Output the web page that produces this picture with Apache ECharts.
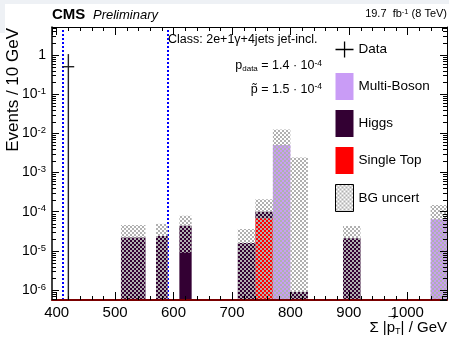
<!DOCTYPE html>
<html><head><meta charset="utf-8">
<script src="https://cdn.jsdelivr.net/npm/echarts@6/dist/echarts.min.js"></script>
<style>html,body{margin:0;padding:0;background:#fff}#c{width:449px;height:339px}</style>
</head><body><div id="c"></div>
<script>
// ---------------- data ----------------
const binLow      = [510, 570, 610, 710, 740, 770, 800, 890, 1040];
const binHigh     = [552, 590, 631, 740, 770, 800, 830, 920, 1070];
const singleTop   = [0, 0, 0, 0, 6.8e-5, 0, 0, 0, 0];
const higgs       = [2.2e-5, 2.4e-5, 4.4e-5, 1.6e-5, 3.2e-5, 0, 9e-7, 2.1e-5, 0];
const multiBoson  = [0, 0, 0, 0, 0, 5.0e-3, 0, 0, 6.4e-5];
const bgUncert    = [2.4e-5, 2.5e-5, 3.5e-5, 2.0e-5, 1.07e-4, 7.6e-3, 2.4e-3, 2.2e-5, 8.4e-5];
const dataLow     = [410];
const dataHigh    = [430];
const dataValue   = [0.5];
const dataErrUp   = [0.55];
const dataErrDown = [0.5];
const roiEdges    = [410, 590];
const xTickLabels = [400, 500, 600, 700, 800, 900, 1000];
const yTickExponents = [-6, -5, -4, -3, -2, -1, 0];

const X_MIN = 392, X_MAX = 1068;
const Y_MIN = 5.6e-7, Y_MAX = 5.15;
const FONT = '"Liberation Sans", Arial, Helvetica, sans-serif';

// minor tick values (axis decoration)
const xMinorTicks = [];
for (let v = 400; v <= 1060; v += 20) if (v % 100 !== 0) xMinorTicks.push(v);
const yMinorTicks = [];
for (let e = -7; e <= 0; e++) for (let m = 2; m <= 9; m++) { const v = m * Math.pow(10, e); if (v > Y_MIN && v < Y_MAX) yMinorTicks.push(v); }

// hatch pattern for BG uncertainty (grey checker, transparent gaps)
const pc = document.createElement('canvas'); pc.width = 4; pc.height = 4;
const pg = pc.getContext('2d'); pg.fillStyle = '#b0b0b0';
pg.fillRect(0, 0, 2, 2); pg.fillRect(2, 2, 2, 2);
const hatch = { image: pc, repeat: 'repeat' };

const COLORS = { mb: '#c99cf6', higgs: '#330033', st: '#ff0000' };

// stacked rectangles
function stackData(vals, below) {
  const out = [];
  vals.forEach((v, i) => { if (v > 0) out.push([binLow[i], binHigh[i], below[i], below[i] + v]); });
  return out;
}
const zeros = binLow.map(() => 0);
const belowHiggs = singleTop.slice();
const belowMB = singleTop.map((v, i) => v + higgs[i]);
const total = belowMB.map((v, i) => v + multiBoson[i]);
const uncertData = total.map((t, i) => [binLow[i], binHigh[i], t - bgUncert[i], t + bgUncert[i]]);

function rectRender(fill, z2) {
  return function (params, api) {
    const x0 = api.value(0), x1 = api.value(1);
    const b = Math.max(api.value(2), Y_MIN), t = api.value(3);
    const p0 = api.coord([x0, t]), p1 = api.coord([x1, b]);
    const cs = params.coordSys;
    const shape = echarts.graphic.clipRectByRect(
      { x: p0[0], y: p0[1], width: p1[0] - p0[0], height: p1[1] - p0[1] },
      { x: cs.x, y: cs.y, width: cs.width, height: cs.height });
    return shape && { type: 'rect', z2: z2, shape: shape, style: { fill: fill } };
  };
}
function barSeries(name, data, fill, z, z2) {
  return { name: name, type: 'custom', renderItem: rectRender(fill, z2), data: data,
    encode: { x: [0, 1], y: [3] }, itemStyle: { color: fill }, z: z, silent: true };
}

const dataPts = dataValue.map((v, i) => [dataLow[i], dataHigh[i], v, v - dataErrDown[i], v + dataErrUp[i]]);

function yLabel(v) {
  const e = Math.log10(v), r = Math.round(e);
  if (Math.abs(e - r) > 1e-6 || yTickExponents.indexOf(r) < 0) return '';
  return r === 0 ? '{b|1}' : '{b|10}{s|' + r + '}';
}

const chart = echarts.init(document.getElementById('c'));
chart.setOption({
  animation: false,
  grid: { left: 52, right: 2, top: 27, bottom: 39 },
  xAxis: [
    { type: 'value', min: X_MIN, max: X_MAX, splitNumber: 6, position: 'bottom', z: 8,
      axisLine: { show: true, onZero: false, lineStyle: { color: '#7a0000', width: 2 } },
      axisTick: { show: true, inside: true, length: 8, lineStyle: { color: '#000', width: 1 } },
      axisLabel: { margin: 5, fontSize: 15, color: '#000', fontFamily: FONT, showMinLabel: false, showMaxLabel: false,
        formatter: v => (xTickLabels.indexOf(Math.round(v)) >= 0 && Math.abs(v - Math.round(v)) < 1e-6) ? String(Math.round(v)) : '' },
      splitLine: { show: false } },
    { type: 'value', min: X_MIN, max: X_MAX, splitNumber: 6, position: 'top', z: 8,
      axisLine: { show: true, onZero: false, lineStyle: { color: '#000', width: 1 } },
      axisTick: { show: true, inside: true, length: 8, lineStyle: { color: '#000', width: 1 } },
      axisLabel: { show: false }, splitLine: { show: false } }
  ],
  yAxis: [
    { type: 'log', logBase: 10, min: Y_MIN, max: Y_MAX, position: 'left', z: 8,
      axisLine: { show: true, lineStyle: { color: '#000', width: 1.5 } },
      axisTick: { show: true, inside: true, length: 7, lineStyle: { color: '#000', width: 1 } },
      axisLabel: { margin: 6, color: '#000', showMinLabel: false, showMaxLabel: false, formatter: yLabel,
        rich: { b: { fontSize: 14, fontFamily: FONT, lineHeight: 16, color: '#000' },
                s: { fontSize: 9.5, fontFamily: FONT, lineHeight: 10, verticalAlign: 'top', color: '#000' } } },
      splitLine: { show: false }, minorTick: { show: false } },
    { type: 'log', logBase: 10, min: Y_MIN, max: Y_MAX, position: 'right', z: 8,
      axisLine: { show: true, lineStyle: { color: '#000', width: 1 } },
      axisTick: { show: true, inside: true, length: 7, lineStyle: { color: '#000', width: 1 } },
      axisLabel: { show: false }, splitLine: { show: false } }
  ],
  legend: {
    orient: 'vertical', left: 335, top: 36, padding: 0, itemWidth: 18, itemHeight: 27, itemGap: 10,
    selectedMode: false, textStyle: { fontSize: 13.5, fontFamily: FONT, color: '#000' },
    data: [
      { name: 'Data', icon: 'path://M0,0M18,27M8.4,5.5h1.3v7.35h8.3v1.3h-8.3v7.35h-1.3v-7.35h-8.4v-1.3h8.4z', itemStyle: { color: '#000' } },
      { name: 'Multi-Boson', icon: 'rect', itemStyle: { color: COLORS.mb } },
      { name: 'Higgs', icon: 'rect', itemStyle: { color: COLORS.higgs } },
      { name: 'Single Top', icon: 'rect', itemStyle: { color: COLORS.st } },
      { name: 'BG uncert', icon: 'rect', itemStyle: { color: hatch, borderColor: '#000', borderWidth: 1 } }
    ]
  },
  series: [
    barSeries('Single Top', stackData(singleTop, zeros), COLORS.st, 2, 1),
    barSeries('Higgs', stackData(higgs, belowHiggs), COLORS.higgs, 2, 1),
    barSeries('Multi-Boson', stackData(multiBoson, belowMB), COLORS.mb, 2, 1),
    barSeries('BG uncert', uncertData, hatch, 5, 50),
    { name: 'Data', type: 'custom', z: 6, silent: true, data: dataPts, encode: { x: [0, 1], y: [2] },
      itemStyle: { color: '#000' },
      renderItem: function (params, api) {
        const xl = api.value(0), xh = api.value(1), v = api.value(2);
        const lo = Math.max(api.value(3), Y_MIN), hi = api.value(4);
        const pl = api.coord([xl, v]), ph = api.coord([xh, v]);
        const xc = api.coord([(xl + xh) / 2, v])[0];
        const yt = api.coord([xl, hi])[1], yb = api.coord([xl, lo])[1];
        return { type: 'group', children: [
          { type: 'line', shape: { x1: xc, y1: yt, x2: xc, y2: yb }, style: { stroke: '#222', lineWidth: 1.4 } },
          { type: 'line', shape: { x1: pl[0], y1: pl[1], x2: ph[0], y2: ph[1] }, style: { stroke: '#222', lineWidth: 1.4 } }
        ] };
      },
      markLine: { silent: true, symbol: 'none', label: { show: false }, animation: false,
        lineStyle: { color: '#0000ff', type: [2, 2], width: 2, opacity: 1 },
        data: roiEdges.map(v => ({ xAxis: v })) } },
    { name: 'xMinor', type: 'custom', z: 9, silent: true, data: xMinorTicks.map(v => [v, 1]), encode: { x: 0, y: 1 },
      renderItem: function (params, api) {
        const cs = params.coordSys, px = Math.round(api.coord([api.value(0), 1])[0]) + 0.5;
        return { type: 'group', children: [
          { type: 'line', shape: { x1: px, y1: cs.y + cs.height, x2: px, y2: cs.y + cs.height - 4 }, style: { stroke: '#000', lineWidth: 1 } },
          { type: 'line', shape: { x1: px, y1: cs.y, x2: px, y2: cs.y + 4 }, style: { stroke: '#000', lineWidth: 1 } }
        ] };
      } },
    { name: 'yMinor', type: 'custom', z: 9, silent: true, data: yMinorTicks.map(v => [500, v]), encode: { x: 0, y: 1 },
      renderItem: function (params, api) {
        const cs = params.coordSys, py = Math.round(api.coord([500, api.value(1)])[1]) + 0.5;
        return { type: 'group', children: [
          { type: 'line', shape: { x1: cs.x, y1: py, x2: cs.x + 4, y2: py }, style: { stroke: '#000', lineWidth: 1 } },
          { type: 'line', shape: { x1: cs.x + cs.width, y1: py, x2: cs.x + cs.width - 4, y2: py }, style: { stroke: '#000', lineWidth: 1 } }
        ] };
      } }
  ],
  graphic: [
    { type: 'rect', left: 0, top: 0, z: -10, silent: true, shape: { width: 449, height: 4 }, style: { fill: '#eef1f5' } },
    { type: 'rect', left: 0, top: 0, z: -10, silent: true, shape: { width: 5, height: 33 }, style: { fill: '#eef1f5' } },
    { type: 'text', x: 52, y: 14.5, silent: true, style: { text: 'CMS', font: 'bold 15px ' + FONT, fill: '#000', verticalAlign: 'middle' } },
    { type: 'text', x: 93, y: 15, silent: true, style: { text: 'Preliminary', font: 'italic 13px ' + FONT, fill: '#000', verticalAlign: 'middle' } },
    { type: 'text', x: 447, y: 14, silent: true, style: { text: '{a|19.7  fb}{s|-1}{a| (8 TeV)}', align: 'right', verticalAlign: 'middle',
      rich: { a: { fontSize: 11, fontFamily: FONT, lineHeight: 13, fill: '#000' }, s: { fontSize: 7.5, fontFamily: FONT, lineHeight: 8, verticalAlign: 'top', fill: '#000' } } } },
    { type: 'text', x: 168, y: 40, silent: true, style: { text: 'Class: 2e+1\u03b3+4jets jet-incl.', font: '12.5px ' + FONT, fill: '#000', verticalAlign: 'middle' } },
    { type: 'text', x: 322, y: 66, silent: true, style: { text: '{a|p}{d|data}{a| = 1.4 \u00b7 10}{s|-4}', align: 'right', verticalAlign: 'middle',
      rich: { a: { fontSize: 12.5, fontFamily: FONT, lineHeight: 14, verticalAlign: 'top', fill: '#000' },
              d: { fontSize: 8, fontFamily: FONT, lineHeight: 8, padding: [10, 0, 0, 0], verticalAlign: 'bottom', fill: '#000' },
              s: { fontSize: 8.5, fontFamily: FONT, lineHeight: 9, verticalAlign: 'top', fill: '#000' } } } },
    { type: 'text', x: 322, y: 90, silent: true, style: { text: '{a|p\u0303 = 1.5 \u00b7 10}{s|-4}', align: 'right', verticalAlign: 'middle',
      rich: { a: { fontSize: 12.5, fontFamily: FONT, lineHeight: 16, fill: '#000' },
              s: { fontSize: 8.5, fontFamily: FONT, lineHeight: 9, verticalAlign: 'top', fill: '#000' } } } },
    { type: 'text', x: 13, y: 28, rotation: Math.PI / 2, silent: true, style: { text: 'Events / 10 GeV', font: '17px ' + FONT, fill: '#000', align: 'right', verticalAlign: 'middle' } },
    { type: 'text', x: 447, y: 328, silent: true, style: { text: '{n|\u03a3 |p}{t|T}{n|| / GeV}', align: 'right', verticalAlign: 'middle',
      rich: { n: { fontSize: 15, fontFamily: FONT, lineHeight: 16, verticalAlign: 'top', fill: '#000' },
              t: { fontSize: 9, fontFamily: FONT, lineHeight: 9, padding: [10, 0, 0, 0], verticalAlign: 'bottom', fill: '#000' } } } },
    { type: 'text', x: 392, y: 317, silent: true, style: { text: '\u2192', font: '10px "DejaVu Sans", ' + FONT, fill: '#000', align: 'center', verticalAlign: 'middle' } }
  ]
});
</script></body></html>
